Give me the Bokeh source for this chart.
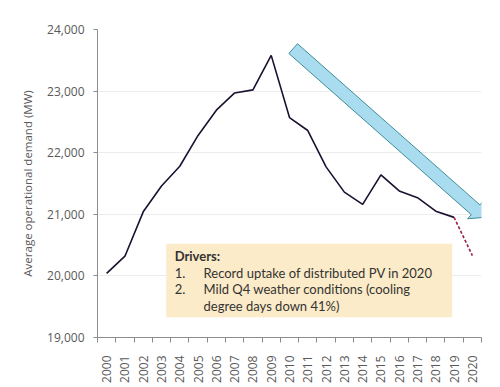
import math
from bokeh.plotting import figure
from bokeh.models import Range1d, FixedTicker, NumeralTickFormatter, Label
from bokeh.embed import file_html
from bokeh.resources import INLINE

years = [str(y) for y in range(2000, 2021)]
demand = [20040, 20320, 21040, 21460, 21780, 22280, 22690, 22970, 23020, 23580,
          22570, 22360, 21770, 21360, 21160, 21640, 21380, 21270, 21050, 20950]
forecast_years = ["2019", "2020"]
forecast = [20950, 20330]

y_ticks = [19000, 20000, 21000, 22000, 23000, 24000]

box_title = "Drivers:"
box_nums = ["1.", "2.", ""]
box_lines = ["Record uptake of distributed PV in 2020",
             "Mild Q4 weather conditions (cooling",
             "degree days down 41%)"]

FONT = "Open Sans"
GREY = "#595959"

W, H = 500, 387
ML, MR, MT, MB = 97, 19, 29, 50
YMIN, YMAX = 19000, 24000
p = figure(width=W, height=H, output_backend="svg", toolbar_location=None,
           x_range=Range1d(-0.5, len(years) - 0.5), y_range=Range1d(YMIN, YMAX),
           min_border_left=ML, min_border_right=MR, min_border_top=MT, min_border_bottom=MB)
p.outline_line_color = None
p.xgrid.grid_line_color = None
p.ygrid.grid_line_color = "#ececec"
p.background_fill_color = "white"

px_x = (W - ML - MR) / len(years)
px_y = (H - MT - MB) / (YMAX - YMIN)

idx = list(range(len(years)))
p.line(idx[:len(demand)], demand, line_color="#1c1030", line_width=1.6)
f_idx = [years.index(y) for y in forecast_years]
p.line(f_idx, forecast, line_color="#9b1f45", line_width=1.6, line_dash="3 2")

# axes
xa = p.xaxis[0]
xa.ticker = FixedTicker(ticks=idx, minor_ticks=[i - 0.5 for i in range(len(years) + 1)])
xa.major_label_overrides = {i: y for i, y in enumerate(years)}
xa.major_label_orientation = math.pi / 2
xa.major_tick_out = 0
xa.major_tick_in = 0
xa.minor_tick_out = 5
xa.minor_tick_in = 0
xa.minor_tick_line_color = "#8c8c8c"
xa.axis_line_color = "#8c8c8c"
xa.major_label_standoff = 13
xa.major_label_text_font = FONT
xa.major_label_text_font_size = "12px"
xa.major_label_text_color = GREY

ya = p.yaxis[0]
ya.ticker = FixedTicker(ticks=y_ticks)
ya.formatter = NumeralTickFormatter(format="0,0")
ya.major_tick_out = 4
ya.major_tick_in = 0
ya.minor_tick_line_color = None
ya.axis_line_color = "#8c8c8c"
ya.major_tick_line_color = "#8c8c8c"
ya.major_label_standoff = 9
ya.major_label_text_font = FONT
ya.major_label_text_font_size = "12px"
ya.major_label_text_color = GREY
ya.axis_label = "Average operational demand (MW)"
ya.axis_label_text_font = FONT
ya.axis_label_text_font_size = "11.5px"
ya.axis_label_text_font_style = "normal"
ya.axis_label_text_color = GREY
ya.axis_label_standoff = 9

# decorative trend arrow (defined in data units, shaped in pixels)
tail = (10.2, 23690)
tip = (20.65, 20950)
tx, ty = tail[0] * px_x, tail[1] * px_y
hx, hy = tip[0] * px_x, tip[1] * px_y
dx, dy = hx - tx, hy - ty
L = math.hypot(dx, dy)
ux, uy = dx / L, dy / L
nx, ny = -uy, ux
hw, HW, HL = 6.5, 12.0, 11.5
bx, by = hx - ux * HL, hy - uy * HL
pts = [(tx + nx * hw, ty + ny * hw), (bx + nx * hw, by + ny * hw), (bx + nx * HW, by + ny * HW),
       (hx, hy), (bx - nx * HW, by - ny * HW), (bx - nx * hw, by - ny * hw),
       (tx - nx * hw, ty - ny * hw)]
p.patch([q[0] / px_x for q in pts], [q[1] / px_y for q in pts],
        fill_color="#a9dcee", line_color="#3f8c99", line_width=1)

# drivers box
p.quad(left=3.26, right=18.9, bottom=19330, top=20520, fill_color="#fcebc8", line_color=None)
ys = [20320, 20055, 19785, 19515]
p.add_layout(Label(x=3.72, y=ys[0], text=box_title, text_font="Lato", text_font_size="13px",
                   text_font_style="bold", text_color="#333333", text_baseline="middle"))
for i in range(3):
    if box_nums[i]:
        p.add_layout(Label(x=3.72, y=ys[i + 1], text=box_nums[i], text_font="Lato",
                           text_font_size="13px", text_color="#333333", text_baseline="middle"))
    p.add_layout(Label(x=5.3, y=ys[i + 1], text=box_lines[i], text_font="Lato",
                       text_font_size="13px", text_color="#333333", text_baseline="middle"))

open("out.html", "w").write(file_html(p, INLINE))
